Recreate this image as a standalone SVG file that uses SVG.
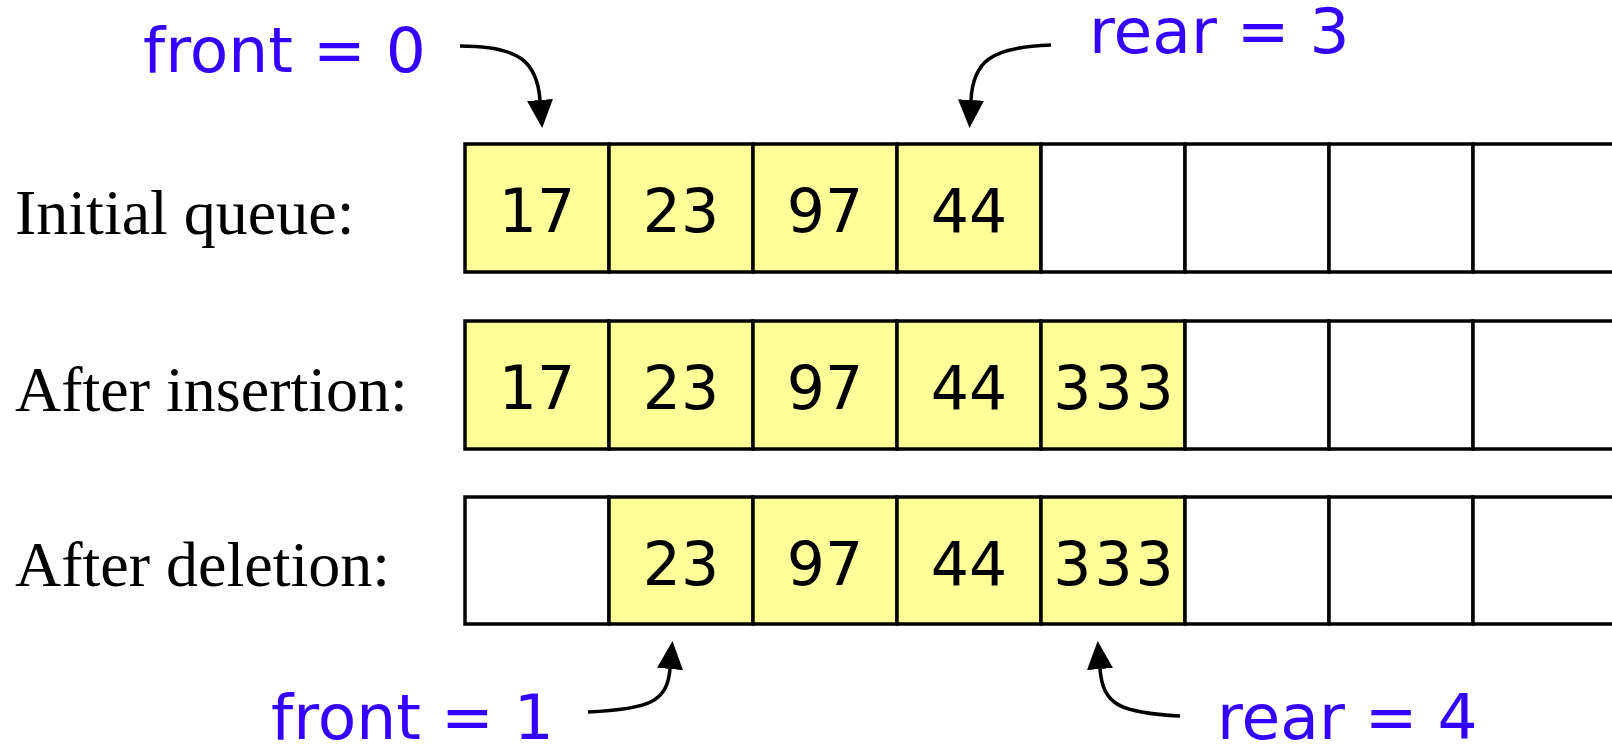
<svg xmlns="http://www.w3.org/2000/svg" width="1612" height="748" viewBox="0 0 1612 748">
<style>
.cell{stroke:#000;stroke-width:3.5}
.y{fill:#FFFF99}
.w{fill:#FFFFFF}
.num{font-family:"DejaVu Sans",Verdana,sans-serif;font-size:60px;fill:#000;text-anchor:middle}
.wide{letter-spacing:3px}
.lab{font-family:"Liberation Serif","Times New Roman",serif;font-size:64px;fill:#000}
.ptr{font-family:"DejaVu Sans",Verdana,sans-serif;font-size:63px;fill:#3300FF}
.arr{fill:none;stroke:#000;stroke-width:3.5}
</style>
<defs>
<marker id="ah" viewBox="0 0 28 26" refX="0" refY="13" markerWidth="28" markerHeight="26" markerUnits="userSpaceOnUse" orient="auto">
<path d="M0,0 L28,13 L0,26 z" fill="#000"/>
</marker>
</defs>
<rect width="1612" height="748" fill="#fff"/>

<g id="row1">
<text class="lab" x="15" y="234">Initial queue:</text>
<rect class="cell y" x="465" y="144" width="144" height="128"/>
<rect class="cell y" x="609" y="144" width="144" height="128"/>
<rect class="cell y" x="753" y="144" width="144" height="128"/>
<rect class="cell y" x="897" y="144" width="144" height="128"/>
<rect class="cell w" x="1041" y="144" width="144" height="128"/>
<rect class="cell w" x="1185" y="144" width="144" height="128"/>
<rect class="cell w" x="1329" y="144" width="144" height="128"/>
<rect class="cell w" x="1473" y="144" width="144" height="128"/>
<text class="num" x="537" y="232">17</text>
<text class="num" x="681" y="232">23</text>
<text class="num" x="825" y="232">97</text>
<text class="num" x="969" y="232">44</text>
</g>

<g id="row2">
<text class="lab" x="15" y="411">After insertion:</text>
<rect class="cell y" x="465" y="321" width="144" height="128"/>
<rect class="cell y" x="609" y="321" width="144" height="128"/>
<rect class="cell y" x="753" y="321" width="144" height="128"/>
<rect class="cell y" x="897" y="321" width="144" height="128"/>
<rect class="cell y" x="1041" y="321" width="144" height="128"/>
<rect class="cell w" x="1185" y="321" width="144" height="128"/>
<rect class="cell w" x="1329" y="321" width="144" height="128"/>
<rect class="cell w" x="1473" y="321" width="144" height="128"/>
<text class="num" x="537" y="409">17</text>
<text class="num" x="681" y="409">23</text>
<text class="num" x="825" y="409">97</text>
<text class="num" x="969" y="409">44</text>
<text class="num wide" x="1115" y="409">333</text>
</g>

<g id="row3">
<text class="lab" x="15" y="586">After deletion:</text>
<rect class="cell w" x="465" y="497" width="144" height="127"/>
<rect class="cell y" x="609" y="497" width="144" height="127"/>
<rect class="cell y" x="753" y="497" width="144" height="127"/>
<rect class="cell y" x="897" y="497" width="144" height="127"/>
<rect class="cell y" x="1041" y="497" width="144" height="127"/>
<rect class="cell w" x="1185" y="497" width="144" height="127"/>
<rect class="cell w" x="1329" y="497" width="144" height="127"/>
<rect class="cell w" x="1473" y="497" width="144" height="127"/>
<text class="num" x="681" y="585">23</text>
<text class="num" x="825" y="585">97</text>
<text class="num" x="969" y="585">44</text>
<text class="num wide" x="1115" y="585">333</text>
</g>

<g id="pointer-labels">
<text class="ptr" x="143" y="72">front = 0</text>
<text class="ptr" x="1089" y="53">rear = 3</text>
<text class="ptr" x="271" y="739">front = 1</text>
<text class="ptr" x="1217" y="739">rear = 4</text>
</g>

<g id="connectors">
<path class="arr" marker-end="url(#ah)" d="M460,46 C520,46 537,62 540,100"/>
<path class="arr" marker-end="url(#ah)" d="M1051,45 C990,47 973,62 971,100"/>
<path class="arr" marker-end="url(#ah)" d="M588,712 C650,709 667,702 670,669"/>
<path class="arr" marker-end="url(#ah)" d="M1180,716 C1120,713 1103,705 1100,669"/>
</g>
</svg>
